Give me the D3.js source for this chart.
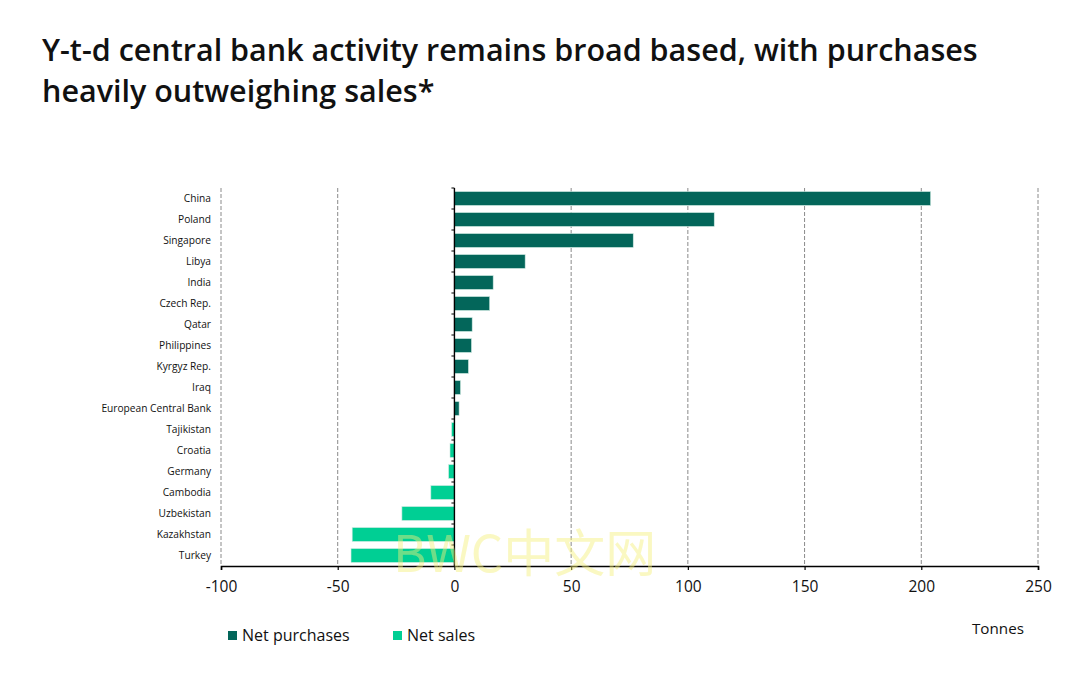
<!DOCTYPE html>
<html>
<head>
<meta charset="utf-8">
<script src="https://cdn.jsdelivr.net/npm/d3@7/dist/d3.min.js"></script>
<style>
  body { margin: 0; background: #fff; }
  svg { display: block; }
</style>
</head>
<body>
<svg id="chart"></svg>
<script>
var countries = ["China", "Poland", "Singapore", "Libya", "India", "Czech Rep.", "Qatar",
    "Philippines", "Kyrgyz Rep.", "Iraq", "European Central Bank", "Tajikistan",
    "Croatia", "Germany", "Cambodia", "Uzbekistan", "Kazakhstan", "Turkey"]
var tonnes = [204, 111.3, 76.6, 30.3, 16.6, 15.1, 7.6, 7.3, 6.0, 2.6, 2.0,
    -1.2, -1.9, -2.5, -10.1, -22.5, -43.8, -44.3]
var xTicks = [-100, -50, 0, 50, 100, 150, 200, 250]
var seriesNames = ["Net purchases", "Net sales"]
var seriesColors = ["#03665a", "#00cf94"]

var width = 1080, height = 673
var plot = {left: 221, right: 1038, top: 188, bottom: 566}

var svg = d3.select("#chart")
    .attr("width", width)
    .attr("height", height)

// title
var title = svg.append("text")
    .attr("font-family", "Open Sans")
    .attr("font-weight", 600)
    .attr("font-size", 30.5)
    .attr("fill", "#111")
title.append("tspan").attr("x", 42).attr("y", 61)
    .text("Y-t-d central bank activity remains broad based, with purchases")
title.append("tspan").attr("x", 42).attr("y", 102)
    .text("heavily outweighing sales*")

var xScale = d3.scaleLinear()
    .domain([-100, 250])
    .range([plot.left, plot.right])

var yScale = d3.scaleBand()
    .domain(countries)
    .range([plot.top, plot.bottom])
    .paddingInner(0.34)
    .paddingOuter(0.17)

// dashed grid lines
svg.append("g")
    .selectAll("line")
    .data(xTicks.filter(function(t) { return t != 0 }))
    .enter()
    .append("line")
    .attr("x1", function(t) { return xScale(t) })
    .attr("x2", function(t) { return xScale(t) })
    .attr("y1", plot.top)
    .attr("y2", plot.bottom)
    .attr("stroke", "#8a8a8a")
    .attr("stroke-width", 1)
    .attr("stroke-dasharray", "4,2")

// bars
svg.append("g")
    .selectAll("rect")
    .data(countries)
    .enter()
    .append("rect")
    .attr("x", function(c, i) { return xScale(Math.min(0, tonnes[i])) })
    .attr("width", function(c, i) { return Math.abs(xScale(tonnes[i]) - xScale(0)) })
    .attr("y", function(c) { return yScale(c) })
    .attr("height", yScale.bandwidth())
    .attr("fill", function(c, i) { return tonnes[i] >= 0 ? seriesColors[0] : seriesColors[1] })
    .attr("stroke", "#cfe9e2")
    .attr("stroke-width", 0.6)

// x axis
var xAxis = d3.axisBottom(xScale)
    .tickValues(xTicks)
    .tickSize(4)
    .tickFormat(d3.format("d"))
var gx = svg.append("g")
    .attr("transform", "translate(0," + plot.bottom + ")")
    .call(xAxis)
gx.select(".domain").attr("stroke", "#000").attr("stroke-width", 1.6)
gx.selectAll(".tick line").attr("stroke", "#000").attr("stroke-width", 1.2)
gx.selectAll(".tick text")
    .attr("y", 15)
    .attr("font-family", "Open Sans")
    .attr("font-size", 15.5)
    .attr("fill", "#111")
    .text(function(t) { return t < 0 ? "-" + Math.abs(t) : t })

// zero line with category ticks
var zero = xScale(0)
svg.append("line")
    .attr("x1", zero).attr("x2", zero)
    .attr("y1", plot.top).attr("y2", plot.bottom)
    .attr("stroke", "#000")
    .attr("stroke-width", 1.4)
var step = yScale.step()
svg.append("g")
    .selectAll("line")
    .data(d3.range(countries.length))
    .enter()
    .append("line")
    .attr("x1", zero - 3).attr("x2", zero)
    .attr("y1", function(i) { return yScale(countries[i]) - step * 0.17 })
    .attr("y2", function(i) { return yScale(countries[i]) - step * 0.17 })
    .attr("stroke", "#000")
    .attr("stroke-width", 1)

// category labels
svg.append("g")
    .selectAll("text")
    .data(countries)
    .enter()
    .append("text")
    .attr("x", 211)
    .attr("y", function(c) { return yScale(c) + yScale.bandwidth() / 2 })
    .attr("dy", "0.35em")
    .attr("text-anchor", "end")
    .attr("font-family", "Open Sans")
    .attr("font-size", 10.2)
    .attr("fill", "#111")
    .text(function(c) { return c })

// legend
var legendX = [228, 393]
var legend = svg.append("g")
    .selectAll("g")
    .data(seriesNames)
    .enter()
    .append("g")
    .attr("transform", function(s, i) { return "translate(" + legendX[i] + ",630)" })
legend.append("rect")
    .attr("width", 9).attr("height", 9)
    .attr("y", 1)
    .attr("fill", function(s, i) { return seriesColors[i] })
legend.append("text")
    .attr("x", 14)
    .attr("y", 11)
    .attr("font-family", "Open Sans")
    .attr("font-size", 16)
    .attr("fill", "#111")
    .text(function(s) { return s })

svg.append("text")
    .attr("x", 972)
    .attr("y", 634)
    .attr("font-family", "Open Sans")
    .attr("font-size", 15.2)
    .attr("fill", "#111")
    .text("Tonnes")

// watermark
svg.append("text")
    .attr("x", 393)
    .attr("y", 572)
    .attr("font-family", "Noto Sans CJK SC")
    .attr("font-size", 51)
    .attr("fill", "#f5f07a")
    .attr("opacity", 0.45)
    .text("BWC中文网")
</script>
</body>
</html>
